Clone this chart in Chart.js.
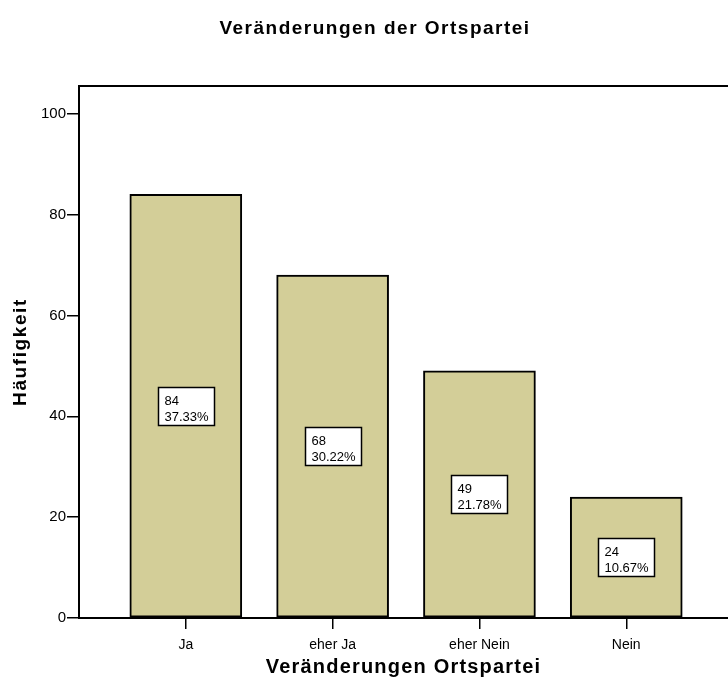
<!DOCTYPE html>
<html>
<head>
<meta charset="utf-8">
<script src="https://cdn.jsdelivr.net/npm/chart.js@4.4.1/dist/chart.umd.min.js"></script>
<style>
  html, body { margin: 0; padding: 0; background: #fff; overflow: hidden; }
  #wrap { width: 728px; height: 680px; }
</style>
</head>
<body>
<div id="wrap"><canvas id="c" width="728" height="680"></canvas></div>
<script>
const categories = ['Ja', 'eher Ja', 'eher Nein', 'Nein'];
const counts = [84, 68, 49, 24];
const percents = ['37.33%', '30.22%', '21.78%', '10.67%'];
const yTicks = [0, 20, 40, 60, 80, 100];
const chartTitle = 'Veränderungen der Ortspartei';
const xTitle = 'Veränderungen Ortspartei';
const yTitle = 'Häufigkeit';

const FONT = 'Arial, "Liberation Sans", Helvetica, sans-serif';

// frame top line, titles and the count/percent boxes inside the bars
const spssExtras = {
  id: 'spssExtras',
  afterDatasetsDraw(chart) {
    const { ctx } = chart;
    const meta = chart.getDatasetMeta(0);
    ctx.save();
    ctx.lineWidth = 1.5;
    ctx.strokeStyle = '#000';
    ctx.font = '13px ' + FONT;
    ctx.textBaseline = 'alphabetic';
    ctx.textAlign = 'left';
    meta.data.forEach((bar, i) => {
      const cy = (bar.y + bar.base) / 2;
      const bx = Math.round(bar.x - 28) + 0.5;
      const by = Math.round(cy - 19) + 0.5;
      ctx.fillStyle = '#fff';
      ctx.fillRect(bx, by, 56, 38);
      ctx.strokeRect(bx, by, 56, 38);
      ctx.fillStyle = '#000';
      ctx.fillText(String(counts[i]), bx + 6, by + 17);
      ctx.fillText(percents[i], bx + 6, by + 33);
    });
    ctx.restore();
  },
  afterDraw(chart) {
    const { ctx, chartArea: a } = chart;
    ctx.save();
    ctx.strokeStyle = '#000';
    ctx.lineWidth = 2;
    ctx.beginPath();
    ctx.moveTo(a.left - 1, a.top);
    ctx.lineTo(a.right, a.top);
    ctx.stroke();

    ctx.fillStyle = '#000';
    ctx.textAlign = 'center';
    ctx.textBaseline = 'alphabetic';

    ctx.letterSpacing = '1.5px';
    ctx.font = 'bold 19px ' + FONT;
    ctx.fillText(chartTitle, 375, 34);

    ctx.letterSpacing = '1.2px';
    ctx.font = 'bold 20px ' + FONT;
    ctx.fillText(xTitle, (a.left + a.right) / 2, 673);

    ctx.letterSpacing = '1.6px';
    ctx.font = 'bold 19px ' + FONT;
    ctx.translate(26, (a.top + a.bottom) / 2);
    ctx.rotate(-Math.PI / 2);
    ctx.fillText(yTitle, 0, 0);
    ctx.restore();
  }
};

new Chart(document.getElementById('c'), {
  type: 'bar',
  data: {
    datasets: [{
      data: counts.map((v, i) => ({ x: i, y: v })),
      backgroundColor: '#d3ce98',
      borderColor: '#000',
      borderWidth: 2,
      borderSkipped: false,
      barThickness: 112,
    }],
  },
  options: {
    responsive: false,
    animation: false,
    layout: { padding: { top: 86, right: 0, bottom: 0, left: 0 } },
    plugins: {
      legend: { display: false },
      tooltip: { enabled: false },
      title: { display: false },
    },
    scales: {
      x: {
        type: 'linear',
        min: -0.7275,
        max: 3.693,
        offset: false,
        afterFit: (s) => { s.height = 62; },
        afterBuildTicks: (s) => { s.ticks = categories.map((c, i) => ({ value: i })); },
        grid: { offset: false, drawOnChartArea: false, drawTicks: true, tickLength: 11, color: '#000', lineWidth: 1.5 },
        border: { display: true, color: '#000', width: 2 },
        ticks: {
          color: '#000',
          padding: 8,
          autoSkip: false,
          maxRotation: 0,
          font: { family: FONT, size: 14 },
          callback: (v) => categories[Math.round(v)],
        },
      },
      y: {
        min: 0,
        max: 105.5,
        afterFit: (s) => { s.width = 79; },
        afterBuildTicks: (s) => { s.ticks = yTicks.map((v) => ({ value: v })); },
        grid: { drawOnChartArea: false, drawTicks: true, tickLength: 12, color: '#000', lineWidth: 1.5 },
        border: { display: true, color: '#000', width: 2 },
        ticks: {
          color: '#000',
          padding: 1,
          font: { family: FONT, size: 15 },
        },
      },
    },
  },
  plugins: [spssExtras],
});
</script>
</body>
</html>
